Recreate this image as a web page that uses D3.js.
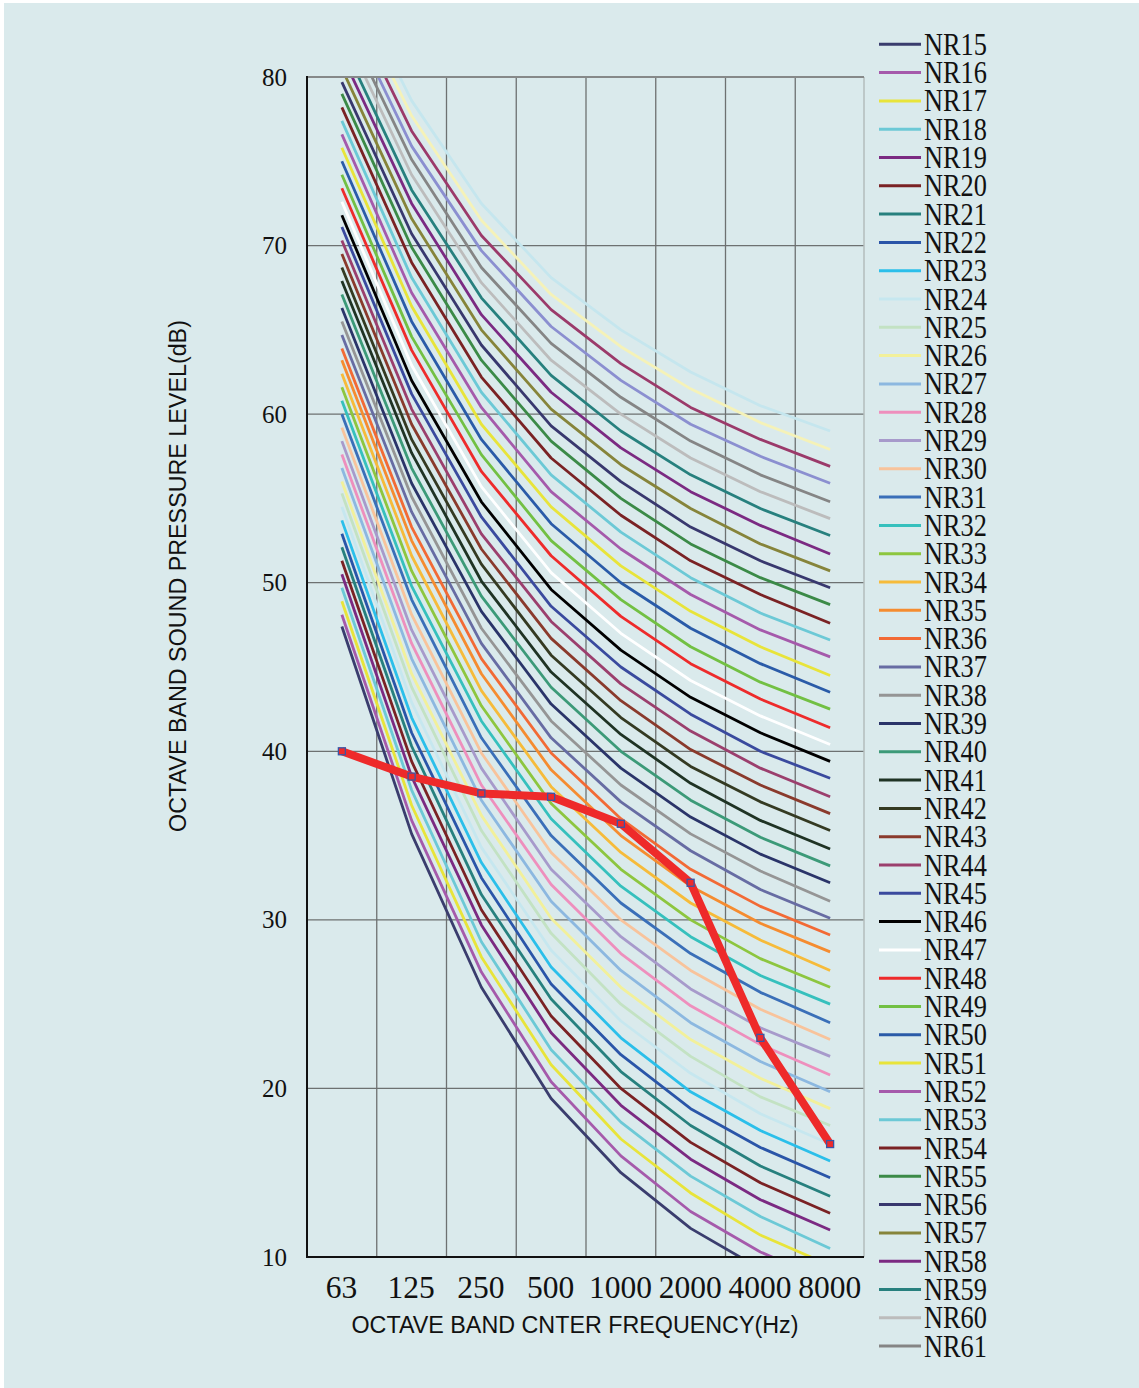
<!DOCTYPE html>
<html>
<head>
<meta charset="utf-8">
<script src="https://cdn.jsdelivr.net/npm/d3@7"></script>
<style>
  html, body { margin: 0; padding: 0; background: #ffffff; }
  svg { display: block; }
</style>
</head>
<body>
<svg id="chart" width="1139" height="1388"></svg>
<script>
// octave bands (Hz)
const bands = ['63', '125', '250', '500', '1000', '2000', '4000', '8000']

// NR curve names, NR15 .. NR65
const nrNames = d3.range(15, 66).map(n => 'NR' + n)

// sound pressure level of each NR curve at each band (dB)
const nrLevels = [
  [47.4, 35.1, 26.0, 19.4, 15, 11.7, 9.3, 7.5],
  [48.1, 35.9, 26.9, 20.4, 16, 12.7, 10.3, 8.5],
  [48.9, 36.8, 27.8, 21.4, 17, 13.8, 11.3, 9.5],
  [49.7, 37.7, 28.7, 22.3, 18, 14.8, 12.4, 10.5],
  [50.5, 38.5, 29.7, 23.3, 19, 15.8, 13.4, 11.6],
  [51.3, 39.4, 30.6, 24.3, 20, 16.8, 14.4, 12.6],
  [52.1, 40.3, 31.5, 25.3, 21, 17.8, 15.4, 13.6],
  [52.9, 41.1, 32.5, 26.2, 22, 18.8, 16.5, 14.7],
  [53.7, 42.0, 33.4, 27.2, 23, 19.8, 17.5, 15.7],
  [54.5, 42.9, 34.3, 28.2, 24, 20.9, 18.5, 16.7],
  [55.3, 43.8, 35.3, 29.2, 25, 21.9, 19.5, 17.8],
  [56.0, 44.6, 36.2, 30.1, 26, 22.9, 20.6, 18.8],
  [56.8, 45.5, 37.1, 31.1, 27, 23.9, 21.6, 19.8],
  [57.6, 46.4, 38.0, 32.1, 28, 24.9, 22.6, 20.8],
  [58.4, 47.2, 39.0, 33.0, 29, 25.9, 23.6, 21.9],
  [59.2, 48.1, 39.9, 34.0, 30, 27.0, 24.7, 22.9],
  [60.0, 49.0, 40.8, 35.0, 31, 28.0, 25.7, 23.9],
  [60.8, 49.8, 41.8, 36.0, 32, 29.0, 26.7, 25.0],
  [61.6, 50.7, 42.7, 36.9, 33, 30.0, 27.7, 26.0],
  [62.4, 51.6, 43.6, 37.9, 34, 31.0, 28.8, 27.0],
  [63.2, 52.5, 44.6, 38.9, 35, 32.0, 29.8, 28.1],
  [63.9, 53.3, 45.5, 39.9, 36, 33.0, 30.8, 29.1],
  [64.7, 54.2, 46.4, 40.8, 37, 34.1, 31.8, 30.1],
  [65.5, 55.1, 47.3, 41.8, 38, 35.1, 32.9, 31.1],
  [66.3, 55.9, 48.3, 42.8, 39, 36.1, 33.9, 32.2],
  [67.1, 56.8, 49.2, 43.8, 40, 37.1, 34.9, 33.2],
  [67.9, 57.7, 50.1, 44.7, 41, 38.1, 35.9, 34.2],
  [68.7, 58.5, 51.1, 45.7, 42, 39.1, 37.0, 35.3],
  [69.5, 59.4, 52.0, 46.7, 43, 40.1, 38.0, 36.3],
  [70.3, 60.3, 52.9, 47.7, 44, 41.2, 39.0, 37.3],
  [71.1, 61.2, 53.9, 48.6, 45, 42.2, 40.0, 38.4],
  [71.8, 62.0, 54.8, 49.6, 46, 43.2, 41.1, 39.4],
  [72.6, 62.9, 55.7, 50.6, 47, 44.2, 42.1, 40.4],
  [73.4, 63.8, 56.6, 51.6, 48, 45.2, 43.1, 41.4],
  [74.2, 64.6, 57.6, 52.5, 49, 46.2, 44.1, 42.5],
  [75.0, 65.5, 58.5, 53.5, 50, 47.3, 45.2, 43.5],
  [75.8, 66.4, 59.4, 54.5, 51, 48.3, 46.2, 44.5],
  [76.6, 67.2, 60.4, 55.4, 52, 49.3, 47.2, 45.6],
  [77.4, 68.1, 61.3, 56.4, 53, 50.3, 48.2, 46.6],
  [78.2, 69.0, 62.2, 57.4, 54, 51.3, 49.3, 47.6],
  [79.0, 69.9, 63.2, 58.4, 55, 52.3, 50.3, 48.7],
  [79.7, 70.7, 64.1, 59.3, 56, 53.3, 51.3, 49.7],
  [80.5, 71.6, 65.0, 60.3, 57, 54.4, 52.3, 50.7],
  [81.3, 72.5, 65.9, 61.3, 58, 55.4, 53.4, 51.7],
  [82.1, 73.3, 66.9, 62.3, 59, 56.4, 54.4, 52.8],
  [82.9, 74.2, 67.8, 63.2, 60, 57.4, 55.4, 53.8],
  [83.7, 75.1, 68.7, 64.2, 61, 58.4, 56.4, 54.8],
  [84.5, 75.9, 69.7, 65.2, 62, 59.4, 57.5, 55.9],
  [85.3, 76.8, 70.6, 66.2, 63, 60.4, 58.5, 56.9],
  [86.1, 77.7, 71.5, 67.1, 64, 61.5, 59.5, 57.9],
  [86.9, 78.6, 72.5, 68.1, 65, 62.5, 60.5, 59.0]
]

// line colour of each NR curve
const nrColors = [
  '#3a3d6e', '#a55aab', '#e8e43a', '#6cc9d6', '#7b2a82', '#7a2224', '#27807e', '#2a55a8',
  '#2bbfea', '#c6e7ef', '#c3e2c3', '#f2f09a', '#8cb8e0', '#ee8fbd', '#a79acb', '#f8c39b',
  '#3a6fb8', '#36c0bd', '#8dc63f', '#f6bb3a', '#f58c30', '#f26a35', '#676ca3', '#959595',
  '#2a3469', '#3c9a78', '#1f3324', '#343a22', '#8a3a2c', '#9b3f6d', '#3a4a9e', '#000000',
  '#ffffff', '#ee2b2b', '#72c043', '#2a5ba8', '#e8e43a', '#a55aab', '#6cc9d6', '#7a2224',
  '#3b8a47', '#38386e', '#86843a', '#7b2a82', '#27807e', '#bcbcbc', '#858585', '#8b8fd0',
  '#9b3a6a', '#f5f2b8', '#c5e6ee'
]

// measured spectrum (red line)
const measured = [40.0, 38.5, 37.5, 37.3, 35.7, 32.2, 23.0, 16.7]

const yTicks = [10, 20, 30, 40, 50, 60, 70, 80]

const svg = d3.select('#chart')
const W = 1139, H = 1388
const plot = {left: 307, right: 865, top: 77, bottom: 1257}

svg.append('rect')
  .attr('x', 4).attr('y', 3)
  .attr('width', W - 4).attr('height', H - 3)
  .attr('fill', '#daeaec')

let x = d3.scaleBand()
  .domain(bands)
  .range([plot.left, plot.right])
  .padding(0)

let y = d3.scaleLinear()
  .domain([10, 80])
  .range([plot.bottom, plot.top])

let cx = d => x(d) + x.bandwidth() / 2

// clip for the curves
svg.append('clipPath').attr('id', 'plotClip')
  .append('rect')
  .attr('x', plot.left).attr('y', plot.top)
  .attr('width', plot.right - 1 - plot.left)
  .attr('height', plot.bottom - plot.top)

///////////////////
/// grid
///////////////////
let grid = svg.append('g')

grid.selectAll('.hgrid')
  .data(yTicks.filter(d => d > 10 && d < 80))
  .enter()
  .append('line')
  .attr('x1', plot.left).attr('x2', plot.right - 1)
  .attr('y1', d => y(d)).attr('y2', d => y(d))
  .attr('stroke', '#6d7171')
  .attr('stroke-width', 1.3)

grid.selectAll('.vgrid')
  .data(bands.slice(1))
  .enter()
  .append('line')
  .attr('x1', d => x(d)).attr('x2', d => x(d))
  .attr('y1', plot.top).attr('y2', plot.bottom)
  .attr('stroke', '#6d7171')
  .attr('stroke-width', 1.3)

// right border
grid.append('line')
  .attr('x1', plot.right - 1).attr('x2', plot.right - 1)
  .attr('y1', plot.top).attr('y2', plot.bottom)
  .attr('stroke', '#b3bcbc')
  .attr('stroke-width', 1.5)

///////////////////
/// NR curves
///////////////////
let line = d3.line()
  .x((d, i) => cx(bands[i]))
  .y(d => y(d))

let curves = svg.append('g').attr('clip-path', 'url(#plotClip)')

curves.selectAll('.nr')
  .data(nrLevels)
  .enter()
  .append('path')
  .attr('class', 'nr')
  .attr('d', line)
  .attr('fill', 'none')
  .attr('stroke', (d, i) => nrColors[i])
  .attr('stroke-width', 2.8)
  .attr('stroke-linejoin', 'round')

// top line at 80 and axes
svg.append('line')
  .attr('x1', plot.left).attr('x2', plot.right - 1)
  .attr('y1', y(80)).attr('y2', y(80))
  .attr('stroke', '#868989')
  .attr('stroke-width', 2.2)

svg.append('line')
  .attr('x1', plot.left).attr('x2', plot.left)
  .attr('y1', plot.top - 1).attr('y2', plot.bottom + 1)
  .attr('stroke', '#111')
  .attr('stroke-width', 2)

svg.append('line')
  .attr('x1', plot.left - 1).attr('x2', plot.right - 1)
  .attr('y1', plot.bottom).attr('y2', plot.bottom)
  .attr('stroke', '#111')
  .attr('stroke-width', 2)

///////////////////
/// measured line
///////////////////
svg.append('path')
  .datum(measured)
  .attr('d', line)
  .attr('fill', 'none')
  .attr('stroke', '#ee2a2a')
  .attr('stroke-width', 8)
  .attr('stroke-linejoin', 'round')

svg.selectAll('.mk')
  .data(measured)
  .enter()
  .append('rect')
  .attr('class', 'mk')
  .attr('x', (d, i) => cx(bands[i]) - 3.5)
  .attr('y', d => y(d) - 3.5)
  .attr('width', 7).attr('height', 7)
  .attr('fill', '#ee2a2a')
  .attr('stroke', '#3a55a5')
  .attr('stroke-width', 1.3)

///////////////////
/// tick labels
///////////////////
svg.selectAll('.ylab')
  .data(yTicks)
  .enter()
  .append('text')
  .attr('x', plot.left - 20)
  .attr('y', d => y(d) + 8.5)
  .attr('text-anchor', 'end')
  .attr('font-family', '"Liberation Serif", serif')
  .attr('font-size', 25)
  .attr('fill', '#111')
  .text(d => d)

svg.selectAll('.xlab')
  .data(bands)
  .enter()
  .append('text')
  .attr('x', d => cx(d) - 0.5)
  .attr('y', 1298)
  .attr('text-anchor', 'middle')
  .attr('font-family', '"Liberation Serif", serif')
  .attr('font-size', 31.5)
  .attr('fill', '#111')
  .text(d => d)

// axis titles
svg.append('text')
  .attr('x', 575)
  .attr('y', 1333)
  .attr('text-anchor', 'middle')
  .attr('font-family', '"Liberation Sans", Arial, sans-serif')
  .attr('font-size', 23.3)
  .attr('fill', '#111')
  .text('OCTAVE BAND CNTER FREQUENCY(Hz)')

svg.append('text')
  .attr('transform', 'translate(186,576) rotate(-90)')
  .attr('text-anchor', 'middle')
  .attr('font-family', '"Liberation Sans", Arial, sans-serif')
  .attr('font-size', 23.3)
  .attr('fill', '#111')
  .text('OCTAVE BAND SOUND PRESSURE LEVEL(dB)')

///////////////////
/// legend
///////////////////
let legendTop = 44.3, legendStep = 28.3
let legendItems = nrNames
  .map((name, i) => ({name: name, color: nrColors[i], y: legendTop + i * legendStep}))
  .filter(d => d.y + 14 < H)

let legend = svg.append('g')

legend.selectAll('.lgline')
  .data(legendItems)
  .enter()
  .append('line')
  .attr('x1', 879).attr('x2', 921)
  .attr('y1', d => d.y).attr('y2', d => d.y)
  .attr('stroke', d => d.color)
  .attr('stroke-width', 3)

legend.selectAll('.lgtext')
  .data(legendItems)
  .enter()
  .append('text')
  .attr('transform', d => 'translate(924,' + (d.y + 10.5) + ') scale(0.85,1)')
  .attr('font-family', '"Liberation Serif", serif')
  .attr('font-size', 31)
  .attr('fill', '#111')
  .text(d => d.name)
</script>
</body>
</html>
